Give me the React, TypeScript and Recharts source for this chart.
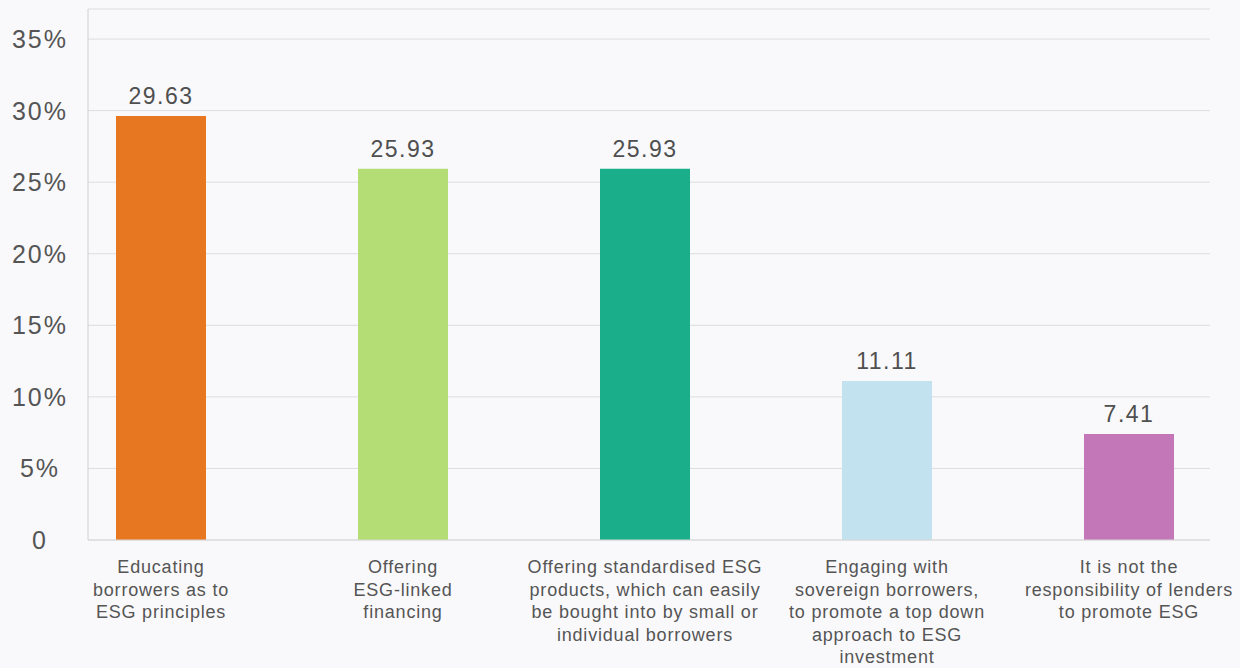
import { BarChart, Bar, XAxis, YAxis, CartesianGrid, LabelList, Cell } from 'recharts';

const categories = [
    'Educating borrowers as to ESG principles',
    'Offering ESG-linked financing',
    'Offering standardised ESG products, which can easily be bought into by small or individual borrowers',
    'Engaging with sovereign borrowers, to promote a top down approach to ESG investment',
    'It is not the responsibility of lenders to promote ESG',
];

// wrapped lines as they appear under each bar
const categoryLines = [
    ['Educating', 'borrowers as to', 'ESG principles'],
    ['Offering', 'ESG-linked', 'financing'],
    ['Offering standardised ESG', 'products, which can easily', 'be bought into by small or', 'individual borrowers'],
    ['Engaging with', 'sovereign borrowers,', 'to promote a top down', 'approach to ESG', 'investment'],
    ['It is not the', 'responsibility of lenders', 'to promote ESG'],
];

const shares = [29.63, 25.93, 25.93, 11.11, 7.41];

const colors = ['#E87722', '#B5DD76', '#1BAE8A', '#C2E2EF', '#C477B8'];

const yTicks = [0, 5, 10, 15, 20, 25, 30, 35];

const data = categories.map((name, i) => ({ name, idx: i, value: shares[i] }));

const FONT = '"Liberation Sans", Arial, Helvetica, sans-serif';
const TEXT = '#555555';

const CategoryTick = (props: any) => {
    const { x, y, payload } = props;
    const lines = categoryLines[payload.index] || [payload.value];
    return (
        <text x={x} y={y + 28} textAnchor="middle" fill={TEXT} fontSize={18} letterSpacing={0.8} fontFamily={FONT}>
            {lines.map((line: string, i: number) => (
                <tspan key={i} x={x} dy={i === 0 ? -3 : 22.6}>
                    {line}
                </tspan>
            ))}
        </text>
    );
};

const PercentTick = (props: any) => {
    const { y, payload } = props;
    const v = payload.value;
    return (
        <text x={40} y={y} dy={9} textAnchor="middle" fill={TEXT} fontSize={25} letterSpacing={2} fontFamily={FONT}>
            {v === 0 ? '0' : `${v}%`}
        </text>
    );
};

const App = () => {
    return (
        <div style={{ position: 'fixed', left: 0, top: 0, width: 1240, height: 668, background: '#f9f9fb' }}>
            <BarChart
                width={1240}
                height={668}
                data={data}
                margin={{ top: 9, right: 30, left: 0, bottom: 0 }}
            >
                <CartesianGrid vertical={false} stroke="#dddddd" />
                <XAxis
                    dataKey="name"
                    interval={0}
                    height={128}
                    padding={{ left: -48, right: -40 }}
                    tick={<CategoryTick />}
                    tickLine={false}
                    axisLine={{ stroke: '#d8d8d8' }}
                />
                <YAxis
                    width={88}
                    domain={[0, 37.1]}
                    ticks={yTicks}
                    tick={<PercentTick />}
                    tickLine={false}
                    axisLine={{ stroke: '#d0d0d0' }}
                    allowDataOverflow
                />
                <Bar dataKey="value" barSize={90} isAnimationActive={false}>
                    {data.map((d) => (
                        <Cell key={d.idx} fill={colors[d.idx]} />
                    ))}
                    <LabelList
                        dataKey="value"
                        position="top"
                        offset={12}
                        fill="#4f4f4f"
                        fontSize={23}
                        letterSpacing={1.5}
                        fontFamily={FONT}
                        formatter={(v: any) => Number(v).toFixed(2)}
                    />
                </Bar>
            </BarChart>
        </div>
    );
};

export default App;
